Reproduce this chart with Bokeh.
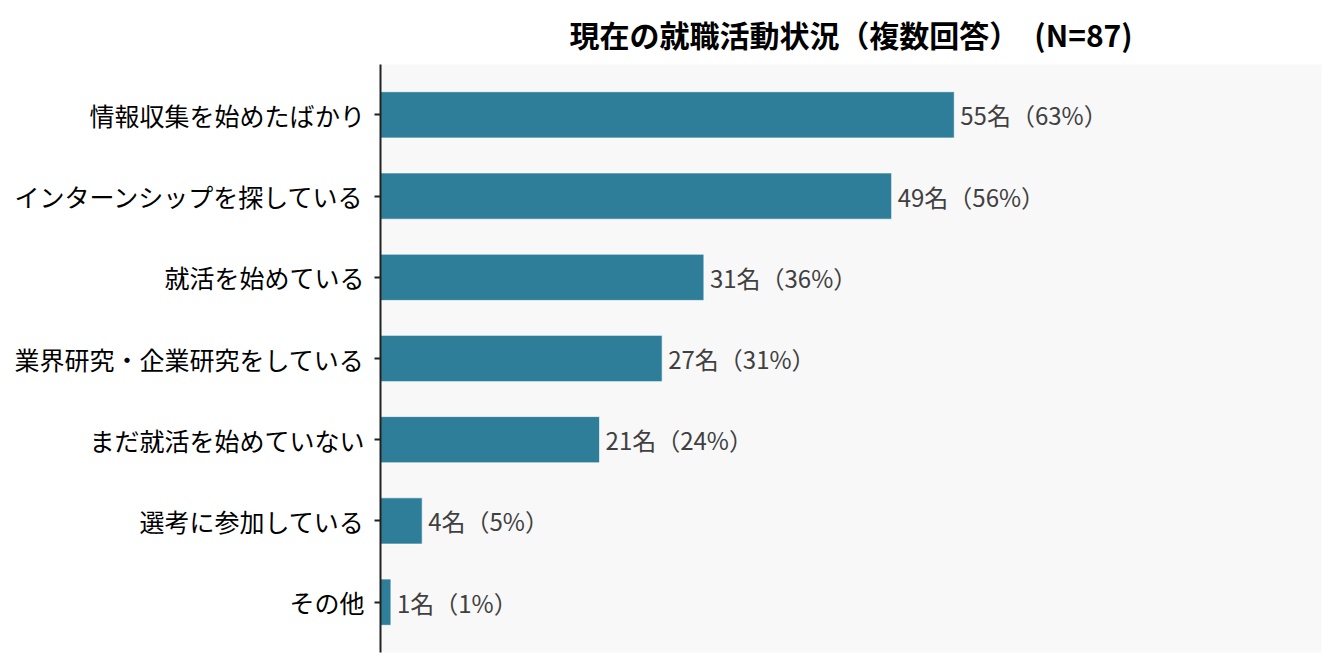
from bokeh.plotting import figure
from bokeh.models import FactorRange, Range1d, ColumnDataSource
from bokeh.embed import file_html
from bokeh.resources import INLINE
from bokeh.core.properties import value

categories = ["情報収集を始めたばかり", "インターンシップを探している", "就活を始めている",
              "業界研究・企業研究をしている", "まだ就活を始めていない", "選考に参加している", "その他"]
counts = [55, 49, 31, 27, 21, 4, 1]
percents = [63, 56, 36, 31, 24, 5, 1]
title_text = "現在の就職活動状況（複数回答）　(N=87)"

labels = [f"{c}名（{p}%）" for c, p in zip(counts, percents)]
src = ColumnDataSource(dict(cat=categories, n=counts, lab=labels))

FONT = "Noto Sans CJK JP"
p = figure(width=1335, height=667, output_backend="svg", toolbar_location=None,
           y_range=FactorRange(factors=categories[::-1], range_padding=0.12, range_padding_units="absolute"),
           x_range=Range1d(0, 90.2), title=title_text,
           min_border_left=380, min_border_right=14, min_border_top=64, min_border_bottom=15)

p.hbar(y="cat", right="n", left=0, height=0.57, source=src, fill_color="#2E7E99",
       line_color="white", line_alpha=0.7, line_width=1)
p.text(x="n", y="cat", text="lab", source=src, x_offset=6, text_baseline="middle",
       text_align="left", text_font=value(FONT), text_font_size="24px", text_color="#404040")

p.background_fill_color = "#f8f8f8"
p.border_fill_color = "white"
p.outline_line_color = None
p.grid.visible = False
p.xaxis.visible = False

ax = p.yaxis[0]
ax.axis_line_color = "#222222"
ax.axis_line_width = 2
ax.major_tick_line_color = "#222222"
ax.major_tick_line_width = 2
ax.major_tick_out = 6
ax.major_tick_in = 0
ax.minor_tick_line_color = None
ax.major_label_text_font = FONT
ax.major_label_text_font_size = "25px"
ax.major_label_text_color = "black"
ax.major_label_standoff = 10

p.title.text_font = FONT
p.title.text_font_size = "30px"
p.title.text_font_style = "bold"
p.title.align = "center"
p.title.text_color = "black"
p.title.standoff = 18

open("out.html", "w").write(file_html(p, INLINE))
